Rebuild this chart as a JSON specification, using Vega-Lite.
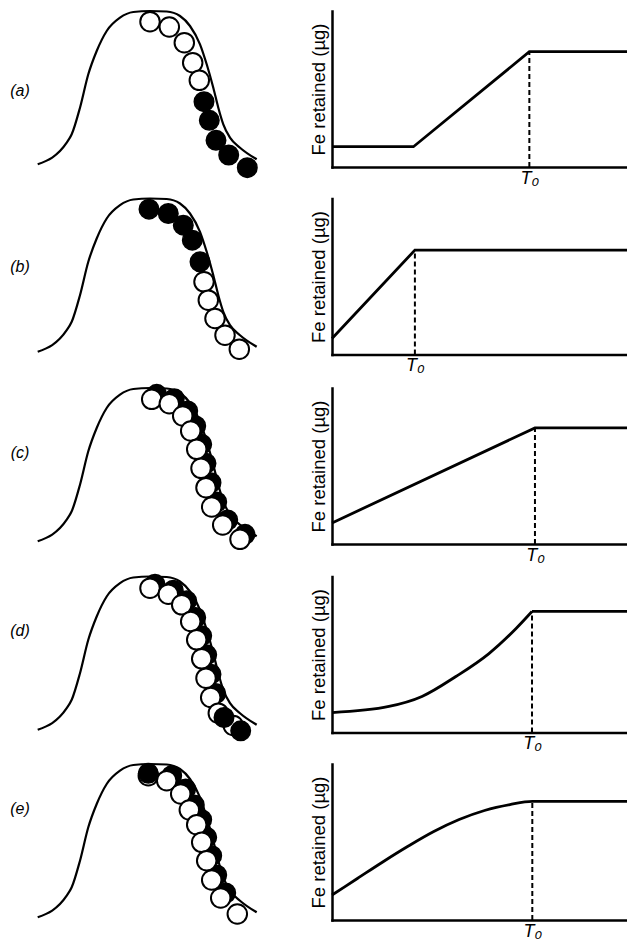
{
  "$schema": "https://vega.github.io/schema/vega-lite/v6.json",
  "padding": {"top": 6, "left": 0, "right": 0, "bottom": 0},
  "background": "white",
  "spacing": 6.5,
  "config": {
    "view": {"stroke": null},
    "font": "Liberation Sans",
    "axis": {"grid": false, "ticks": false, "domainColor": "black", "domainWidth": 2.5, "domainCap": "square"},
    "axisY": {"labels": false, "titleFontSize": 18.5, "titleFontWeight": "normal", "titleColor": "black", "titlePadding": 4, "titleFont": "Liberation Sans"},
    "axisX": {"labelFontSize": 18, "labelFontStyle": "italic", "labelColor": "black", "labelPadding": 2, "labelFont": "Liberation Sans", "title": null}
  },
  "datasets": {
    "bell": [
      {"x": 37.7, "h": 2.7}, {"x": 66.7, "h": 24.3}, {"x": 71.7, "h": 32.7}, {"x": 80, "h": 59.3},
      {"x": 88.3, "h": 92.7}, {"x": 96.7, "h": 116}, {"x": 106.7, "h": 136}, {"x": 120, "h": 149.3},
      {"x": 133.3, "h": 155}, {"x": 150, "h": 156}, {"x": 166.7, "h": 155.5}, {"x": 180, "h": 151},
      {"x": 190, "h": 141}, {"x": 200, "h": 122.7}, {"x": 206.7, "h": 102.7}, {"x": 213.3, "h": 79.3},
      {"x": 218.3, "h": 59.3}, {"x": 223.3, "h": 42.7}, {"x": 230, "h": 29.3}, {"x": 240, "h": 19.3},
      {"x": 256.7, "h": 7.7}
    ],
    "circles": [
      {"panel": "a", "kind": "open", "x": 150, "h": 145.3},
      {"panel": "a", "kind": "open", "x": 169.3, "h": 140},
      {"panel": "a", "kind": "open", "x": 184.3, "h": 124.3},
      {"panel": "a", "kind": "open", "x": 192.7, "h": 104.3},
      {"panel": "a", "kind": "open", "x": 199.3, "h": 86.7},
      {"panel": "a", "kind": "back", "x": 204, "h": 65.3},
      {"panel": "a", "kind": "back", "x": 209.3, "h": 46.7},
      {"panel": "a", "kind": "back", "x": 216, "h": 26.7},
      {"panel": "a", "kind": "back", "x": 228.7, "h": 12},
      {"panel": "a", "kind": "back", "x": 247.3, "h": -0.7},

      {"panel": "b", "kind": "back", "x": 149, "h": 145.3},
      {"panel": "b", "kind": "back", "x": 168.3, "h": 141},
      {"panel": "b", "kind": "back", "x": 183.3, "h": 129.3},
      {"panel": "b", "kind": "back", "x": 192.3, "h": 114.3},
      {"panel": "b", "kind": "back", "x": 200, "h": 92.7},
      {"panel": "b", "kind": "open", "x": 204, "h": 72.7},
      {"panel": "b", "kind": "open", "x": 208.3, "h": 54.3},
      {"panel": "b", "kind": "open", "x": 215, "h": 36},
      {"panel": "b", "kind": "open", "x": 225, "h": 19.3},
      {"panel": "b", "kind": "open", "x": 239.3, "h": 5.3},

      {"panel": "c", "kind": "back", "x": 156.7, "h": 149.7},
      {"panel": "c", "kind": "back", "x": 174.3, "h": 145.3},
      {"panel": "c", "kind": "back", "x": 187.7, "h": 133},
      {"panel": "c", "kind": "back", "x": 195.7, "h": 118},
      {"panel": "c", "kind": "back", "x": 201.7, "h": 99.7},
      {"panel": "c", "kind": "back", "x": 206, "h": 80.7},
      {"panel": "c", "kind": "back", "x": 211, "h": 61.3},
      {"panel": "c", "kind": "back", "x": 216.7, "h": 42},
      {"panel": "c", "kind": "back", "x": 227.7, "h": 24},
      {"panel": "c", "kind": "back", "x": 245, "h": 9.7},
      {"panel": "c", "kind": "open", "x": 151.7, "h": 144.7},
      {"panel": "c", "kind": "open", "x": 169.3, "h": 140.3},
      {"panel": "c", "kind": "open", "x": 182.7, "h": 128},
      {"panel": "c", "kind": "open", "x": 190.7, "h": 113},
      {"panel": "c", "kind": "open", "x": 196.7, "h": 94.7},
      {"panel": "c", "kind": "open", "x": 201, "h": 75.7},
      {"panel": "c", "kind": "open", "x": 206, "h": 56.3},
      {"panel": "c", "kind": "open", "x": 211.7, "h": 37},
      {"panel": "c", "kind": "open", "x": 222.7, "h": 19},
      {"panel": "c", "kind": "open", "x": 240, "h": 4.7},

      {"panel": "d", "kind": "back", "x": 155, "h": 148.3},
      {"panel": "d", "kind": "back", "x": 173.3, "h": 142.3},
      {"panel": "d", "kind": "back", "x": 186.7, "h": 131.7},
      {"panel": "d", "kind": "back", "x": 195.7, "h": 115},
      {"panel": "d", "kind": "back", "x": 201.7, "h": 96.7},
      {"panel": "d", "kind": "back", "x": 206.7, "h": 77.7},
      {"panel": "d", "kind": "back", "x": 211, "h": 58.3},
      {"panel": "d", "kind": "back", "x": 215.7, "h": 39},
      {"panel": "d", "kind": "open", "x": 150, "h": 144.3},
      {"panel": "d", "kind": "open", "x": 168.3, "h": 138.3},
      {"panel": "d", "kind": "open", "x": 181.7, "h": 127.7},
      {"panel": "d", "kind": "open", "x": 190.7, "h": 111},
      {"panel": "d", "kind": "open", "x": 196.7, "h": 92.7},
      {"panel": "d", "kind": "open", "x": 201.7, "h": 73.7},
      {"panel": "d", "kind": "open", "x": 206, "h": 54.3},
      {"panel": "d", "kind": "open", "x": 210.7, "h": 35},
      {"panel": "d", "kind": "open", "x": 218.3, "h": 19.3},
      {"panel": "d", "kind": "open", "x": 233.3, "h": 7},
      {"panel": "d", "kind": "front", "x": 224, "h": 15},
      {"panel": "d", "kind": "front", "x": 240.7, "h": 1.7},

      {"panel": "e", "kind": "back", "x": 171.7, "h": 144.3},
      {"panel": "e", "kind": "back", "x": 185.7, "h": 131},
      {"panel": "e", "kind": "back", "x": 194.3, "h": 115},
      {"panel": "e", "kind": "back", "x": 201.7, "h": 100.3},
      {"panel": "e", "kind": "back", "x": 206.7, "h": 82.7},
      {"panel": "e", "kind": "back", "x": 211.7, "h": 64.3},
      {"panel": "e", "kind": "back", "x": 216.7, "h": 45},
      {"panel": "e", "kind": "back", "x": 225.7, "h": 27},
      {"panel": "e", "kind": "open", "x": 148.3, "h": 144.3},
      {"panel": "e", "kind": "open", "x": 166.7, "h": 139.3},
      {"panel": "e", "kind": "open", "x": 180.7, "h": 126},
      {"panel": "e", "kind": "open", "x": 189.3, "h": 110},
      {"panel": "e", "kind": "open", "x": 196.7, "h": 95.3},
      {"panel": "e", "kind": "open", "x": 201.7, "h": 77.7},
      {"panel": "e", "kind": "open", "x": 206.7, "h": 59.3},
      {"panel": "e", "kind": "open", "x": 211.7, "h": 40},
      {"panel": "e", "kind": "open", "x": 220.7, "h": 22},
      {"panel": "e", "kind": "open", "x": 237.3, "h": 6},
      {"panel": "e", "kind": "front", "x": 148.3, "h": 146.7}
    ],
    "labels": [
      {"panel": "a", "x": 20, "h": 76, "t": "(a)"},
      {"panel": "b", "x": 20, "h": 88, "t": "(b)"},
      {"panel": "c", "x": 20, "h": 91, "t": "(c)"},
      {"panel": "d", "x": 20, "h": 102, "t": "(d)"},
      {"panel": "e", "x": 20, "h": 111, "t": "(e)"}
    ],
    "curves": [
      {"panel": "a", "seg": "s", "x": 0, "y": 13},
      {"panel": "a", "seg": "s", "x": 27.6, "y": 13},
      {"panel": "a", "seg": "s", "x": 66.9, "y": 73.9},
      {"panel": "a", "seg": "s", "x": 100, "y": 73.9},
      {"panel": "b", "seg": "s", "x": 0, "y": 10.3},
      {"panel": "b", "seg": "s", "x": 28.1, "y": 66.9},
      {"panel": "b", "seg": "s", "x": 100, "y": 66.9},
      {"panel": "c", "seg": "s", "x": 0, "y": 13.5},
      {"panel": "c", "seg": "s", "x": 68.8, "y": 74.4},
      {"panel": "c", "seg": "s", "x": 100, "y": 74.4},
      {"panel": "d", "seg": "c", "x": 0, "y": 12.8},
      {"panel": "d", "seg": "c", "x": 19.3, "y": 16.7},
      {"panel": "d", "seg": "c", "x": 30.5, "y": 23.1},
      {"panel": "d", "seg": "c", "x": 42, "y": 35.9},
      {"panel": "d", "seg": "c", "x": 53.2, "y": 50.6},
      {"panel": "d", "seg": "c", "x": 62.4, "y": 66.7},
      {"panel": "d", "seg": "c", "x": 67.8, "y": 77.6},
      {"panel": "d", "seg": "p", "x": 67.8, "y": 77.6},
      {"panel": "d", "seg": "p", "x": 100, "y": 77.6},
      {"panel": "e", "seg": "c", "x": 0, "y": 16},
      {"panel": "e", "seg": "c", "x": 8.6, "y": 26.6},
      {"panel": "e", "seg": "c", "x": 17.2, "y": 37.2},
      {"panel": "e", "seg": "c", "x": 25.9, "y": 47.4},
      {"panel": "e", "seg": "c", "x": 34.5, "y": 56.7},
      {"panel": "e", "seg": "c", "x": 43.1, "y": 64.4},
      {"panel": "e", "seg": "c", "x": 51.7, "y": 70.2},
      {"panel": "e", "seg": "c", "x": 60.3, "y": 74},
      {"panel": "e", "seg": "c", "x": 67.9, "y": 76.1},
      {"panel": "e", "seg": "c", "x": 100, "y": 76.1}
    ],
    "t0": [
      {"panel": "a", "x": 66.9, "y": 0, "y2": 73.9},
      {"panel": "b", "x": 28.1, "y": 0, "y2": 66.9},
      {"panel": "c", "x": 68.8, "y": 0, "y2": 74.4},
      {"panel": "d", "x": 67.8, "y": 0, "y2": 77.6},
      {"panel": "e", "x": 67.9, "y": 0, "y2": 76.1}
    ]
  },
  "vconcat": [
    {
      "bounds": "flush", "spacing": 32,
      "hconcat": [
        {
          "width": 300, "height": 156,
          "encoding": {
            "x": {"field": "x", "type": "quantitative", "scale": {"domain": [0, 300]}, "axis": null},
            "y": {"field": "h", "type": "quantitative", "scale": {"domain": [0, 156]}, "axis": null}
          },
          "layer": [
            {"data": {"name": "bell"}, "mark": {"type": "line", "color": "black", "strokeWidth": 2.2, "interpolate": "monotone"}},
            {"data": {"name": "circles"}, "transform": [{"filter": "datum.panel == 'a' && datum.kind == 'back'"}], "mark": {"type": "point", "shape": "circle", "filled": true, "fill": "black", "stroke": "black", "strokeWidth": 1.5, "size": 380, "opacity": 1}},
            {"data": {"name": "circles"}, "transform": [{"filter": "datum.panel == 'a' && datum.kind == 'open'"}], "mark": {"type": "point", "shape": "circle", "filled": true, "fill": "white", "stroke": "black", "strokeWidth": 2, "size": 380, "opacity": 1}},
            {"data": {"name": "labels"}, "transform": [{"filter": "datum.panel == 'a'"}], "mark": {"type": "text", "fontSize": 16, "fontStyle": "italic", "color": "black", "align": "center", "baseline": "middle"}, "encoding": {"text": {"field": "t"}}}
          ]
        },
        {
          "width": 295, "height": 156,
          "encoding": {
            "x": {"field": "x", "type": "quantitative", "scale": {"domain": [0, 100]}, "axis": {"values": [66.9], "labelExpr": "'T₀'"}},
            "y": {"field": "y", "type": "quantitative", "scale": {"domain": [0, 100]}, "axis": {"title": "Fe retained (µg)"}}
          },
          "layer": [
            {"data": {"name": "curves"}, "transform": [{"filter": "datum.panel == 'a'"}], "mark": {"type": "line", "color": "black", "strokeWidth": 2.8}, "encoding": {"detail": {"field": "seg"}}},
            {"data": {"name": "t0"}, "transform": [{"filter": "datum.panel == 'a'"}], "mark": {"type": "rule", "color": "black", "strokeWidth": 2, "strokeDash": [5, 3]}, "encoding": {"y2": {"field": "y2"}}}
          ]
        }
      ]
    },
    {
      "bounds": "flush", "spacing": 32,
      "hconcat": [
        {
          "width": 300, "height": 156,
          "encoding": {
            "x": {"field": "x", "type": "quantitative", "scale": {"domain": [0, 300]}, "axis": null},
            "y": {"field": "h", "type": "quantitative", "scale": {"domain": [0, 156]}, "axis": null}
          },
          "layer": [
            {"data": {"name": "bell"}, "mark": {"type": "line", "color": "black", "strokeWidth": 2.2, "interpolate": "monotone"}},
            {"data": {"name": "circles"}, "transform": [{"filter": "datum.panel == 'b' && datum.kind == 'back'"}], "mark": {"type": "point", "shape": "circle", "filled": true, "fill": "black", "stroke": "black", "strokeWidth": 1.5, "size": 380, "opacity": 1}},
            {"data": {"name": "circles"}, "transform": [{"filter": "datum.panel == 'b' && datum.kind == 'open'"}], "mark": {"type": "point", "shape": "circle", "filled": true, "fill": "white", "stroke": "black", "strokeWidth": 2, "size": 380, "opacity": 1}},
            {"data": {"name": "labels"}, "transform": [{"filter": "datum.panel == 'b'"}], "mark": {"type": "text", "fontSize": 16, "fontStyle": "italic", "color": "black", "align": "center", "baseline": "middle"}, "encoding": {"text": {"field": "t"}}}
          ]
        },
        {
          "width": 295, "height": 156,
          "encoding": {
            "x": {"field": "x", "type": "quantitative", "scale": {"domain": [0, 100]}, "axis": {"values": [28.1], "labelExpr": "'T₀'"}},
            "y": {"field": "y", "type": "quantitative", "scale": {"domain": [0, 100]}, "axis": {"title": "Fe retained (µg)"}}
          },
          "layer": [
            {"data": {"name": "curves"}, "transform": [{"filter": "datum.panel == 'b'"}], "mark": {"type": "line", "color": "black", "strokeWidth": 2.8}, "encoding": {"detail": {"field": "seg"}}},
            {"data": {"name": "t0"}, "transform": [{"filter": "datum.panel == 'b'"}], "mark": {"type": "rule", "color": "black", "strokeWidth": 2, "strokeDash": [5, 3]}, "encoding": {"y2": {"field": "y2"}}}
          ]
        }
      ]
    },
    {
      "bounds": "flush", "spacing": 32,
      "hconcat": [
        {
          "width": 300, "height": 156,
          "encoding": {
            "x": {"field": "x", "type": "quantitative", "scale": {"domain": [0, 300]}, "axis": null},
            "y": {"field": "h", "type": "quantitative", "scale": {"domain": [0, 156]}, "axis": null}
          },
          "layer": [
            {"data": {"name": "bell"}, "mark": {"type": "line", "color": "black", "strokeWidth": 2.2, "interpolate": "monotone"}},
            {"data": {"name": "circles"}, "transform": [{"filter": "datum.panel == 'c' && datum.kind == 'back'"}], "mark": {"type": "point", "shape": "circle", "filled": true, "fill": "black", "stroke": "black", "strokeWidth": 1.5, "size": 380, "opacity": 1}},
            {"data": {"name": "circles"}, "transform": [{"filter": "datum.panel == 'c' && datum.kind == 'open'"}], "mark": {"type": "point", "shape": "circle", "filled": true, "fill": "white", "stroke": "black", "strokeWidth": 2, "size": 380, "opacity": 1}},
            {"data": {"name": "labels"}, "transform": [{"filter": "datum.panel == 'c'"}], "mark": {"type": "text", "fontSize": 16, "fontStyle": "italic", "color": "black", "align": "center", "baseline": "middle"}, "encoding": {"text": {"field": "t"}}}
          ]
        },
        {
          "width": 295, "height": 156,
          "encoding": {
            "x": {"field": "x", "type": "quantitative", "scale": {"domain": [0, 100]}, "axis": {"values": [68.8], "labelExpr": "'T₀'"}},
            "y": {"field": "y", "type": "quantitative", "scale": {"domain": [0, 100]}, "axis": {"title": "Fe retained (µg)"}}
          },
          "layer": [
            {"data": {"name": "curves"}, "transform": [{"filter": "datum.panel == 'c'"}], "mark": {"type": "line", "color": "black", "strokeWidth": 2.8}, "encoding": {"detail": {"field": "seg"}}},
            {"data": {"name": "t0"}, "transform": [{"filter": "datum.panel == 'c'"}], "mark": {"type": "rule", "color": "black", "strokeWidth": 2, "strokeDash": [5, 3]}, "encoding": {"y2": {"field": "y2"}}}
          ]
        }
      ]
    },
    {
      "bounds": "flush", "spacing": 32,
      "hconcat": [
        {
          "width": 300, "height": 156,
          "encoding": {
            "x": {"field": "x", "type": "quantitative", "scale": {"domain": [0, 300]}, "axis": null},
            "y": {"field": "h", "type": "quantitative", "scale": {"domain": [0, 156]}, "axis": null}
          },
          "layer": [
            {"data": {"name": "bell"}, "mark": {"type": "line", "color": "black", "strokeWidth": 2.2, "interpolate": "monotone"}},
            {"data": {"name": "circles"}, "transform": [{"filter": "datum.panel == 'd' && datum.kind == 'back'"}], "mark": {"type": "point", "shape": "circle", "filled": true, "fill": "black", "stroke": "black", "strokeWidth": 1.5, "size": 380, "opacity": 1}},
            {"data": {"name": "circles"}, "transform": [{"filter": "datum.panel == 'd' && datum.kind == 'open'"}], "mark": {"type": "point", "shape": "circle", "filled": true, "fill": "white", "stroke": "black", "strokeWidth": 2, "size": 380, "opacity": 1}},
            {"data": {"name": "circles"}, "transform": [{"filter": "datum.panel == 'd' && datum.kind == 'front'"}], "mark": {"type": "point", "shape": "circle", "filled": true, "fill": "black", "stroke": "black", "strokeWidth": 1.5, "size": 380, "opacity": 1}},
            {"data": {"name": "labels"}, "transform": [{"filter": "datum.panel == 'd'"}], "mark": {"type": "text", "fontSize": 16, "fontStyle": "italic", "color": "black", "align": "center", "baseline": "middle"}, "encoding": {"text": {"field": "t"}}}
          ]
        },
        {
          "width": 295, "height": 156,
          "encoding": {
            "x": {"field": "x", "type": "quantitative", "scale": {"domain": [0, 100]}, "axis": {"values": [67.8], "labelExpr": "'T₀'"}},
            "y": {"field": "y", "type": "quantitative", "scale": {"domain": [0, 100]}, "axis": {"title": "Fe retained (µg)"}}
          },
          "layer": [
            {"data": {"name": "curves"}, "transform": [{"filter": "datum.panel == 'd'"}], "mark": {"type": "line", "color": "black", "strokeWidth": 2.8, "interpolate": "monotone"}, "encoding": {"detail": {"field": "seg"}}},
            {"data": {"name": "t0"}, "transform": [{"filter": "datum.panel == 'd'"}], "mark": {"type": "rule", "color": "black", "strokeWidth": 2, "strokeDash": [5, 3]}, "encoding": {"y2": {"field": "y2"}}}
          ]
        }
      ]
    },
    {
      "bounds": "flush", "spacing": 32,
      "hconcat": [
        {
          "width": 300, "height": 156,
          "encoding": {
            "x": {"field": "x", "type": "quantitative", "scale": {"domain": [0, 300]}, "axis": null},
            "y": {"field": "h", "type": "quantitative", "scale": {"domain": [0, 156]}, "axis": null}
          },
          "layer": [
            {"data": {"name": "bell"}, "mark": {"type": "line", "color": "black", "strokeWidth": 2.2, "interpolate": "monotone"}},
            {"data": {"name": "circles"}, "transform": [{"filter": "datum.panel == 'e' && datum.kind == 'back'"}], "mark": {"type": "point", "shape": "circle", "filled": true, "fill": "black", "stroke": "black", "strokeWidth": 1.5, "size": 380, "opacity": 1}},
            {"data": {"name": "circles"}, "transform": [{"filter": "datum.panel == 'e' && datum.kind == 'open'"}], "mark": {"type": "point", "shape": "circle", "filled": true, "fill": "white", "stroke": "black", "strokeWidth": 2, "size": 380, "opacity": 1}},
            {"data": {"name": "circles"}, "transform": [{"filter": "datum.panel == 'e' && datum.kind == 'front'"}], "mark": {"type": "point", "shape": "circle", "filled": true, "fill": "black", "stroke": "black", "strokeWidth": 1.5, "size": 380, "opacity": 1}},
            {"data": {"name": "labels"}, "transform": [{"filter": "datum.panel == 'e'"}], "mark": {"type": "text", "fontSize": 16, "fontStyle": "italic", "color": "black", "align": "center", "baseline": "middle"}, "encoding": {"text": {"field": "t"}}}
          ]
        },
        {
          "width": 295, "height": 156,
          "encoding": {
            "x": {"field": "x", "type": "quantitative", "scale": {"domain": [0, 100]}, "axis": {"values": [67.9], "labelExpr": "'T₀'"}},
            "y": {"field": "y", "type": "quantitative", "scale": {"domain": [0, 100]}, "axis": {"title": "Fe retained (µg)"}}
          },
          "layer": [
            {"data": {"name": "curves"}, "transform": [{"filter": "datum.panel == 'e'"}], "mark": {"type": "line", "color": "black", "strokeWidth": 2.8, "interpolate": "monotone"}, "encoding": {"detail": {"field": "seg"}}},
            {"data": {"name": "t0"}, "transform": [{"filter": "datum.panel == 'e'"}], "mark": {"type": "rule", "color": "black", "strokeWidth": 2, "strokeDash": [5, 3]}, "encoding": {"y2": {"field": "y2"}}}
          ]
        }
      ]
    }
  ]
}
